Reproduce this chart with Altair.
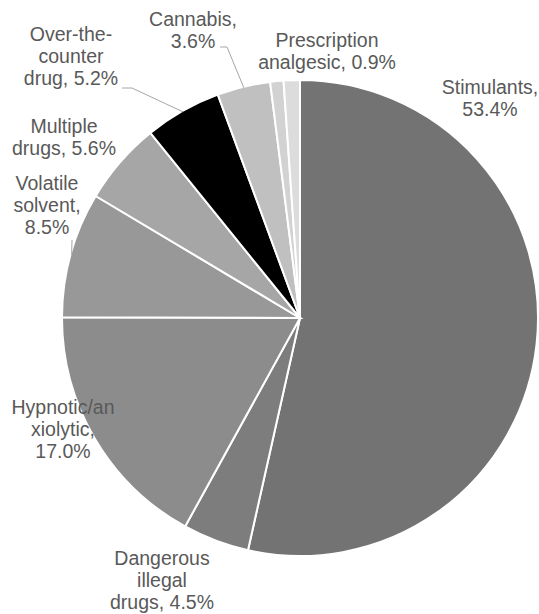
import altair as alt
import pandas as pd
import math

# Share of cases by drug type (percent), in clockwise order from 12 o'clock
categories = [
    "Stimulants",
    "Dangerous illegal drugs",
    "Hypnotic/anxiolytic",
    "Volatile solvent",
    "Multiple drugs",
    "Over-the-counter drug",
    "Cannabis",
    "Prescription analgesic",
    "Other",
]
shares = [53.4, 4.5, 17.0, 8.5, 5.6, 5.2, 3.6, 0.9, 1.1]
slice_colors = [
    "#737373", "#7d7d7d", "#8c8c8c", "#989898", "#a6a6a6",
    "#000000", "#c0c0c0", "#d2d2d2", "#dcdcdc",
]

# Label text for each labelled slice (line breaks as shown)
label_text = {
    "Stimulants": "Stimulants,\n53.4%",
    "Dangerous illegal drugs": "Dangerous\nillegal\ndrugs, 4.5%",
    "Hypnotic/anxiolytic": "Hypnotic/an\nxiolytic,\n17.0%",
    "Volatile solvent": "Volatile\nsolvent,\n8.5%",
    "Multiple drugs": "Multiple\ndrugs, 5.6%",
    "Over-the-counter drug": "Over-the-\ncounter\ndrug, 5.2%",
    "Cannabis": "Cannabis,\n3.6%",
    "Prescription analgesic": "Prescription\nanalgesic, 0.9%",
}

# ---- layout (pixels) ----
W, H = 539, 614
CX, CY, R = 300, 318, 238
# centre of each label's first line
label_pos = {
    "Stimulants": (490, 87.5),
    "Dangerous illegal drugs": (162, 558.5),
    "Hypnotic/anxiolytic": (63, 407.5),
    "Volatile solvent": (47, 183.5),
    "Multiple drugs": (64, 126.5),
    "Over-the-counter drug": (71, 34.5),
    "Cannabis": (193, 20),
    "Prescription analgesic": (327, 41),
}
# leader lines: start near the label, optional elbow, then to the slice edge
leader_start = {
    "Cannabis": [(220, 47), (227, 47)],
    "Over-the-counter drug": [(122, 88), (132, 88)],
    "Volatile solvent": [(72, 240)],
}

df = pd.DataFrame({"category": categories, "share": shares, "idx": range(len(categories))})

# mid-angle of each slice (clockwise from top) for leader-line ends
total = sum(shares)
mid_angle = {}
acc = 0.0
for c, v in zip(categories, shares):
    mid_angle[c] = (acc + v / 2) / total * 2 * math.pi
    acc += v

lead_rows = []
for c, pts in leader_start.items():
    a = mid_angle[c]
    end = (CX + (R - 1) * math.sin(a), CY - (R - 1) * math.cos(a))
    for k, (px, py) in enumerate(pts + [end]):
        lead_rows.append({"category": c, "k": k, "px": px, "py": py})
leaders_df = pd.DataFrame(lead_rows)

labels_df = pd.DataFrame(
    [{"category": c, "text": t, "lx": label_pos[c][0], "ly": label_pos[c][1]}
     for c, t in label_text.items()]
)

pie = (
    alt.Chart(df)
    .mark_arc(outerRadius=R, stroke="white", strokeWidth=2)
    .encode(
        theta=alt.Theta("share:Q", stack=True),
        order=alt.Order("idx:Q"),
        color=alt.Color(
            "category:N",
            scale=alt.Scale(domain=categories, range=slice_colors),
            legend=None,
        ),
        x=alt.value(CX),
        y=alt.value(CY),
    )
)

leaders = (
    alt.Chart(leaders_df)
    .mark_line(color="#a6a6a6", strokeWidth=1)
    .encode(
        x=alt.X("px:Q", scale=None, axis=None),
        y=alt.Y("py:Q", scale=None, axis=None),
        detail="category:N",
        order="k:Q",
    )
)

labels = (
    alt.Chart(labels_df)
    .mark_text(
        font="Liberation Sans",
        fontSize=19.5,
        lineHeight=22,
        color="#595959",
        align="center",
        baseline="middle",
        lineBreak="\n",
    )
    .encode(
        x=alt.X("lx:Q", scale=None, axis=None),
        y=alt.Y("ly:Q", scale=None, axis=None),
        text="text:N",
    )
)

chart = (
    alt.layer(pie, leaders, labels)
    .properties(width=W, height=H, padding=0, autosize="none", background="white")
    .configure_view(strokeWidth=0)
)

chart.save("out.html", embed_options={"renderer": "svg", "actions": False})
